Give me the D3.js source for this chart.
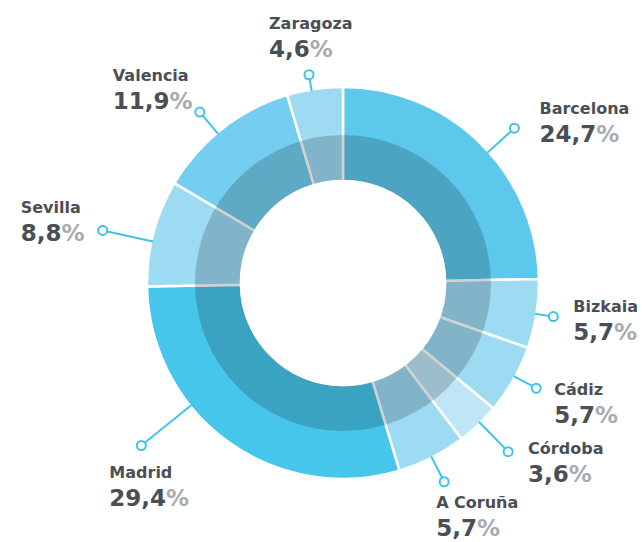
<!DOCTYPE html>
<html>
<head>
<meta charset="utf-8">
<script src="https://cdn.jsdelivr.net/npm/d3@7"></script>
<style>
    body { margin: 0; background: #fff; }
    svg { display: block; }
</style>
</head>
<body>
<div id="chart"></div>
<script>
// provinces, clockwise from 12 o'clock
let cities = ["Barcelona", "Bizkaia", "Cádiz", "Córdoba", "A Coruña", "Madrid", "Sevilla", "Valencia", "Zaragoza"];
let shares = [24.7, 5.7, 5.7, 3.6, 5.7, 29.4, 8.8, 11.9, 4.6];

// ring colours per slice
let fills = ["#5cc9ec", "#9ddbf3", "#9ddbf3", "#bee6f7", "#9ddbf3", "#47c6eb", "#9ddbf3", "#73ceef", "#9ddbf3"];

// leader length, angle nudge (deg), label offset from the dot
let leaders = [
    {len: 35, shift: 3.5, dx: 25, dy: -14},
    {len: 17, shift: 0, dx: 20, dy: -5},
    {len: 24, shift: -1, dx: 18, dy: 7},
    {len: 40, shift: -0.7, dx: 20, dy: 2},
    {len: 27, shift: 0, dx: -8, dy: 26},
    {len: 63, shift: 15, dx: -32, dy: 33},
    {len: 50, shift: -2.5, dx: -82, dy: -17},
    {len: 27, shift: -2, dx: -87, dy: -31},
    {len: 15, shift: -1, dx: -40, dy: -46}
];

let width = 642, height = 542;
let cx = 343, cy = 283;
let rOuter = 196, rMid = 148, rHole = 102;

let es = d3.formatLocale({decimal: ",", thousands: ".", grouping: [3], currency: ["", "€"]});
let fmt = es.format(".1f");

let data = cities.map((c, i) => ({name: c, share: shares[i], fill: fills[i], lay: leaders[i]}));

let svg = d3.select("#chart").append("svg")
    .attr("width", width)
    .attr("height", height);

let g = svg.append("g").attr("transform", `translate(${cx},${cy})`);

let pie = d3.pie().sort(null).value(d => d.share);
let arcs = pie(data);

let arc = d3.arc().innerRadius(rHole).outerRadius(rOuter);

g.selectAll("path.slice")
    .data(arcs)
    .join("path")
    .attr("class", "slice")
    .attr("d", arc)
    .attr("fill", d => d.data.fill)
    .attr("stroke", "#fff")
    .attr("stroke-width", 2.5);

// darker inner band (also greys the white separators)
g.append("path")
    .attr("d", d3.arc().innerRadius(rHole).outerRadius(rMid).startAngle(0).endAngle(2 * Math.PI)())
    .attr("fill", "#000")
    .attr("fill-opacity", 0.175);

// keep the hole clean
g.append("circle").attr("r", rHole + 1.3).attr("fill", "#fff");

function polar(r, a) {
    return [r * Math.sin(a), -r * Math.cos(a)];
}

let lead = g.append("g").selectAll("g")
    .data(arcs)
    .join("g")
    .each(function(d) {
        let a = (d.startAngle + d.endAngle) / 2 + d.data.lay.shift * Math.PI / 180;
        d.p0 = polar(rOuter - 1.5, a);
        d.p1 = polar(rOuter + d.data.lay.len, a);
    });

lead.append("line")
    .attr("x1", d => d.p0[0]).attr("y1", d => d.p0[1])
    .attr("x2", d => d.p1[0]).attr("y2", d => d.p1[1])
    .attr("stroke", "#3fc3ea")
    .attr("stroke-width", 2);

lead.append("circle")
    .attr("cx", d => d.p1[0]).attr("cy", d => d.p1[1])
    .attr("r", 4.5)
    .attr("fill", "#fff")
    .attr("stroke", "#3fc3ea")
    .attr("stroke-width", 2);

lead.append("text")
    .attr("x", d => d.p1[0] + d.data.lay.dx)
    .attr("y", d => d.p1[1] + d.data.lay.dy)
    .attr("font-family", "'DejaVu Sans', sans-serif")
    .attr("font-weight", "bold")
    .attr("font-size", "16px")
    .attr("fill", "#4a4f55")
    .text(d => d.data.name);

let val = lead.append("text")
    .attr("x", d => d.p1[0] + d.data.lay.dx)
    .attr("y", d => d.p1[1] + d.data.lay.dy + 28)
    .attr("font-family", "'DejaVu Sans', sans-serif")
    .attr("font-weight", "bold")
    .attr("font-size", "23px")
    .attr("fill", "#4a4f55");

val.append("tspan").text(d => fmt(d.data.share));
val.append("tspan").attr("fill", "#a6abb0").text("%");
</script>
</body>
</html>
